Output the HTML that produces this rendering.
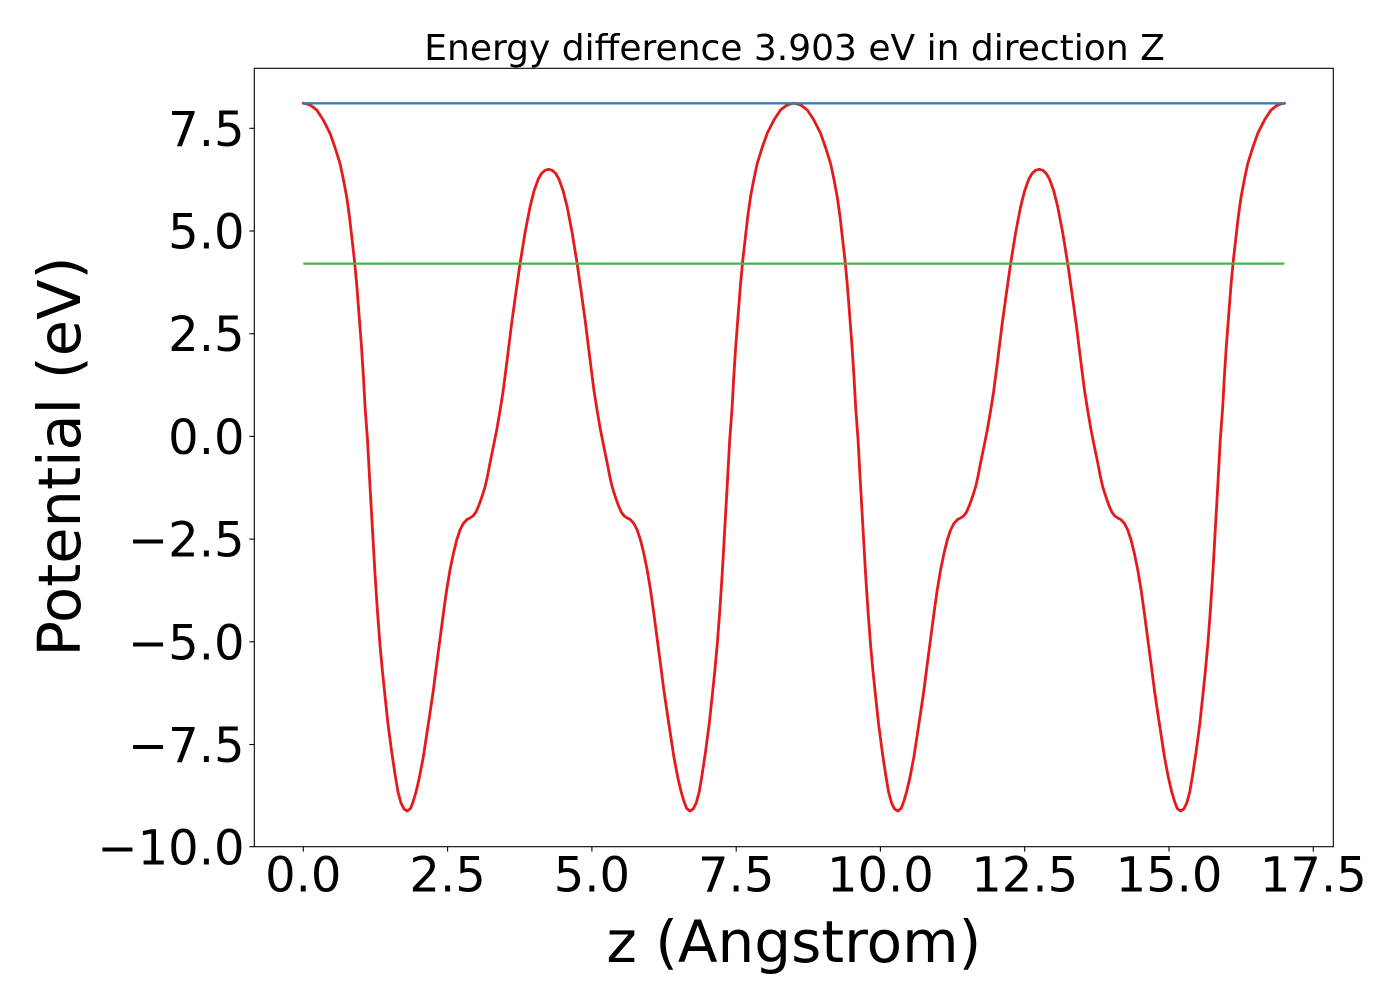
<!DOCTYPE html>
<html>
<head>
<meta charset="utf-8">
<style>
  html, body { margin: 0; padding: 0; background: #ffffff; }
  svg { display: block; }
  text { font-family: "DejaVu Sans", "Liberation Sans", sans-serif; fill: #000; }
</style>
</head>
<body>
<svg width="1400" height="1000" viewBox="0 0 1400 1000" xmlns="http://www.w3.org/2000/svg">
  <rect x="0" y="0" width="1400" height="1000" fill="#ffffff"/>

  <defs>
    <polyline id="half" fill="none" stroke="#e41a1c" stroke-width="2.8" stroke-linejoin="round" stroke-linecap="round"
      points="303.3,103.3 307,103.9 311,105.6 316.7,110 323,119.5 330,133.3 335,147.5 340,163.5 343.5,180 346.7,197 349.5,217 352,239 354.3,259 356.5,282 359,314 361.5,347 363.5,378 365,406 367.5,440 370,486 372.5,530 375,574 377.5,612 380,645 382.5,672 385,696 388,724 391.7,752 395,774 398,792 401,803 404,809 407.3,811 410.5,808.5 413,802 416,792 419.5,777 423.3,757 426.5,736 430,713 433.5,689 436.7,664 440,639 443.3,614 446.5,591 450,570 453.5,553 456.7,540 460,530 463.3,523.5 467,519.5 470,518 473,516 476,512 479,505 482,496.5 485,487 487.5,476 490,463 493.3,447 496.7,430 500,411 503.3,390 507.5,357 511.7,323 516,292 520,264 525,233 530,207 534,191 538.3,179 541.5,173.5 545,170.3 548.6,169.3"/>
  </defs>

  <!-- red curve: four symmetric pieces -->
  <use href="#half"/>
  <use href="#half" transform="matrix(-1 0 0 1 1097.2 0)"/>
  <use href="#half" transform="translate(490.57 0)"/>
  <use href="#half" transform="matrix(-1 0 0 1 1587.77 0)"/>

  <!-- horizontal lines -->
  <line x1="303.3" y1="103.3" x2="1284.4" y2="103.3" stroke="#377eb8" stroke-width="2.3"/>
  <line x1="303.3" y1="263.6" x2="1284.4" y2="263.6" stroke="#4daf4a" stroke-width="2.3"/>

  <!-- axes frame -->
  <rect x="254.3" y="68.3" width="1079" height="778.4" fill="none" stroke="#000" stroke-width="1.1"/>

  <!-- y ticks -->
  <g stroke="#000" stroke-width="1.1">
    <line x1="249.4" y1="128.3" x2="254.3" y2="128.3"/>
    <line x1="249.4" y1="231.0" x2="254.3" y2="231.0"/>
    <line x1="249.4" y1="333.7" x2="254.3" y2="333.7"/>
    <line x1="249.4" y1="436.4" x2="254.3" y2="436.4"/>
    <line x1="249.4" y1="539.1" x2="254.3" y2="539.1"/>
    <line x1="249.4" y1="641.8" x2="254.3" y2="641.8"/>
    <line x1="249.4" y1="744.5" x2="254.3" y2="744.5"/>
    <line x1="249.4" y1="846.7" x2="254.3" y2="846.7"/>
  </g>
  <g font-size="48" text-anchor="end">
    <text x="244.5" y="145.8">7.5</text>
    <text x="244.5" y="248.5">5.0</text>
    <text x="244.5" y="351.2">2.5</text>
    <text x="244.5" y="453.9">0.0</text>
    <text x="244.5" y="556.6">−2.5</text>
    <text x="244.5" y="659.3">−5.0</text>
    <text x="244.5" y="762.0">−7.5</text>
    <text x="244.5" y="864.7">−10.0</text>
  </g>

  <!-- x ticks -->
  <g stroke="#000" stroke-width="1.1">
    <line x1="303.3" y1="846.7" x2="303.3" y2="851.6"/>
    <line x1="447.6" y1="846.7" x2="447.6" y2="851.6"/>
    <line x1="591.9" y1="846.7" x2="591.9" y2="851.6"/>
    <line x1="736.2" y1="846.7" x2="736.2" y2="851.6"/>
    <line x1="880.4" y1="846.7" x2="880.4" y2="851.6"/>
    <line x1="1024.7" y1="846.7" x2="1024.7" y2="851.6"/>
    <line x1="1169.0" y1="846.7" x2="1169.0" y2="851.6"/>
    <line x1="1313.3" y1="846.7" x2="1313.3" y2="851.6"/>
  </g>
  <g font-size="48" text-anchor="middle">
    <text x="303.3" y="891.5">0.0</text>
    <text x="447.6" y="891.5">2.5</text>
    <text x="591.9" y="891.5">5.0</text>
    <text x="736.2" y="891.5">7.5</text>
    <text x="880.4" y="891.5">10.0</text>
    <text x="1024.7" y="891.5">12.5</text>
    <text x="1169.0" y="891.5">15.0</text>
    <text x="1313.3" y="891.5">17.5</text>
  </g>

  <!-- axis labels -->
  <text x="793.8" y="962" font-size="58" text-anchor="middle">z (Angstrom)</text>
  <text transform="translate(80,456.5) rotate(-90)" font-size="59" text-anchor="middle">Potential (eV)</text>

  <!-- title -->
  <text x="794.5" y="60" font-size="36" text-anchor="middle">Energy difference 3.903 eV in direction Z</text>
</svg>
</body>
</html>
